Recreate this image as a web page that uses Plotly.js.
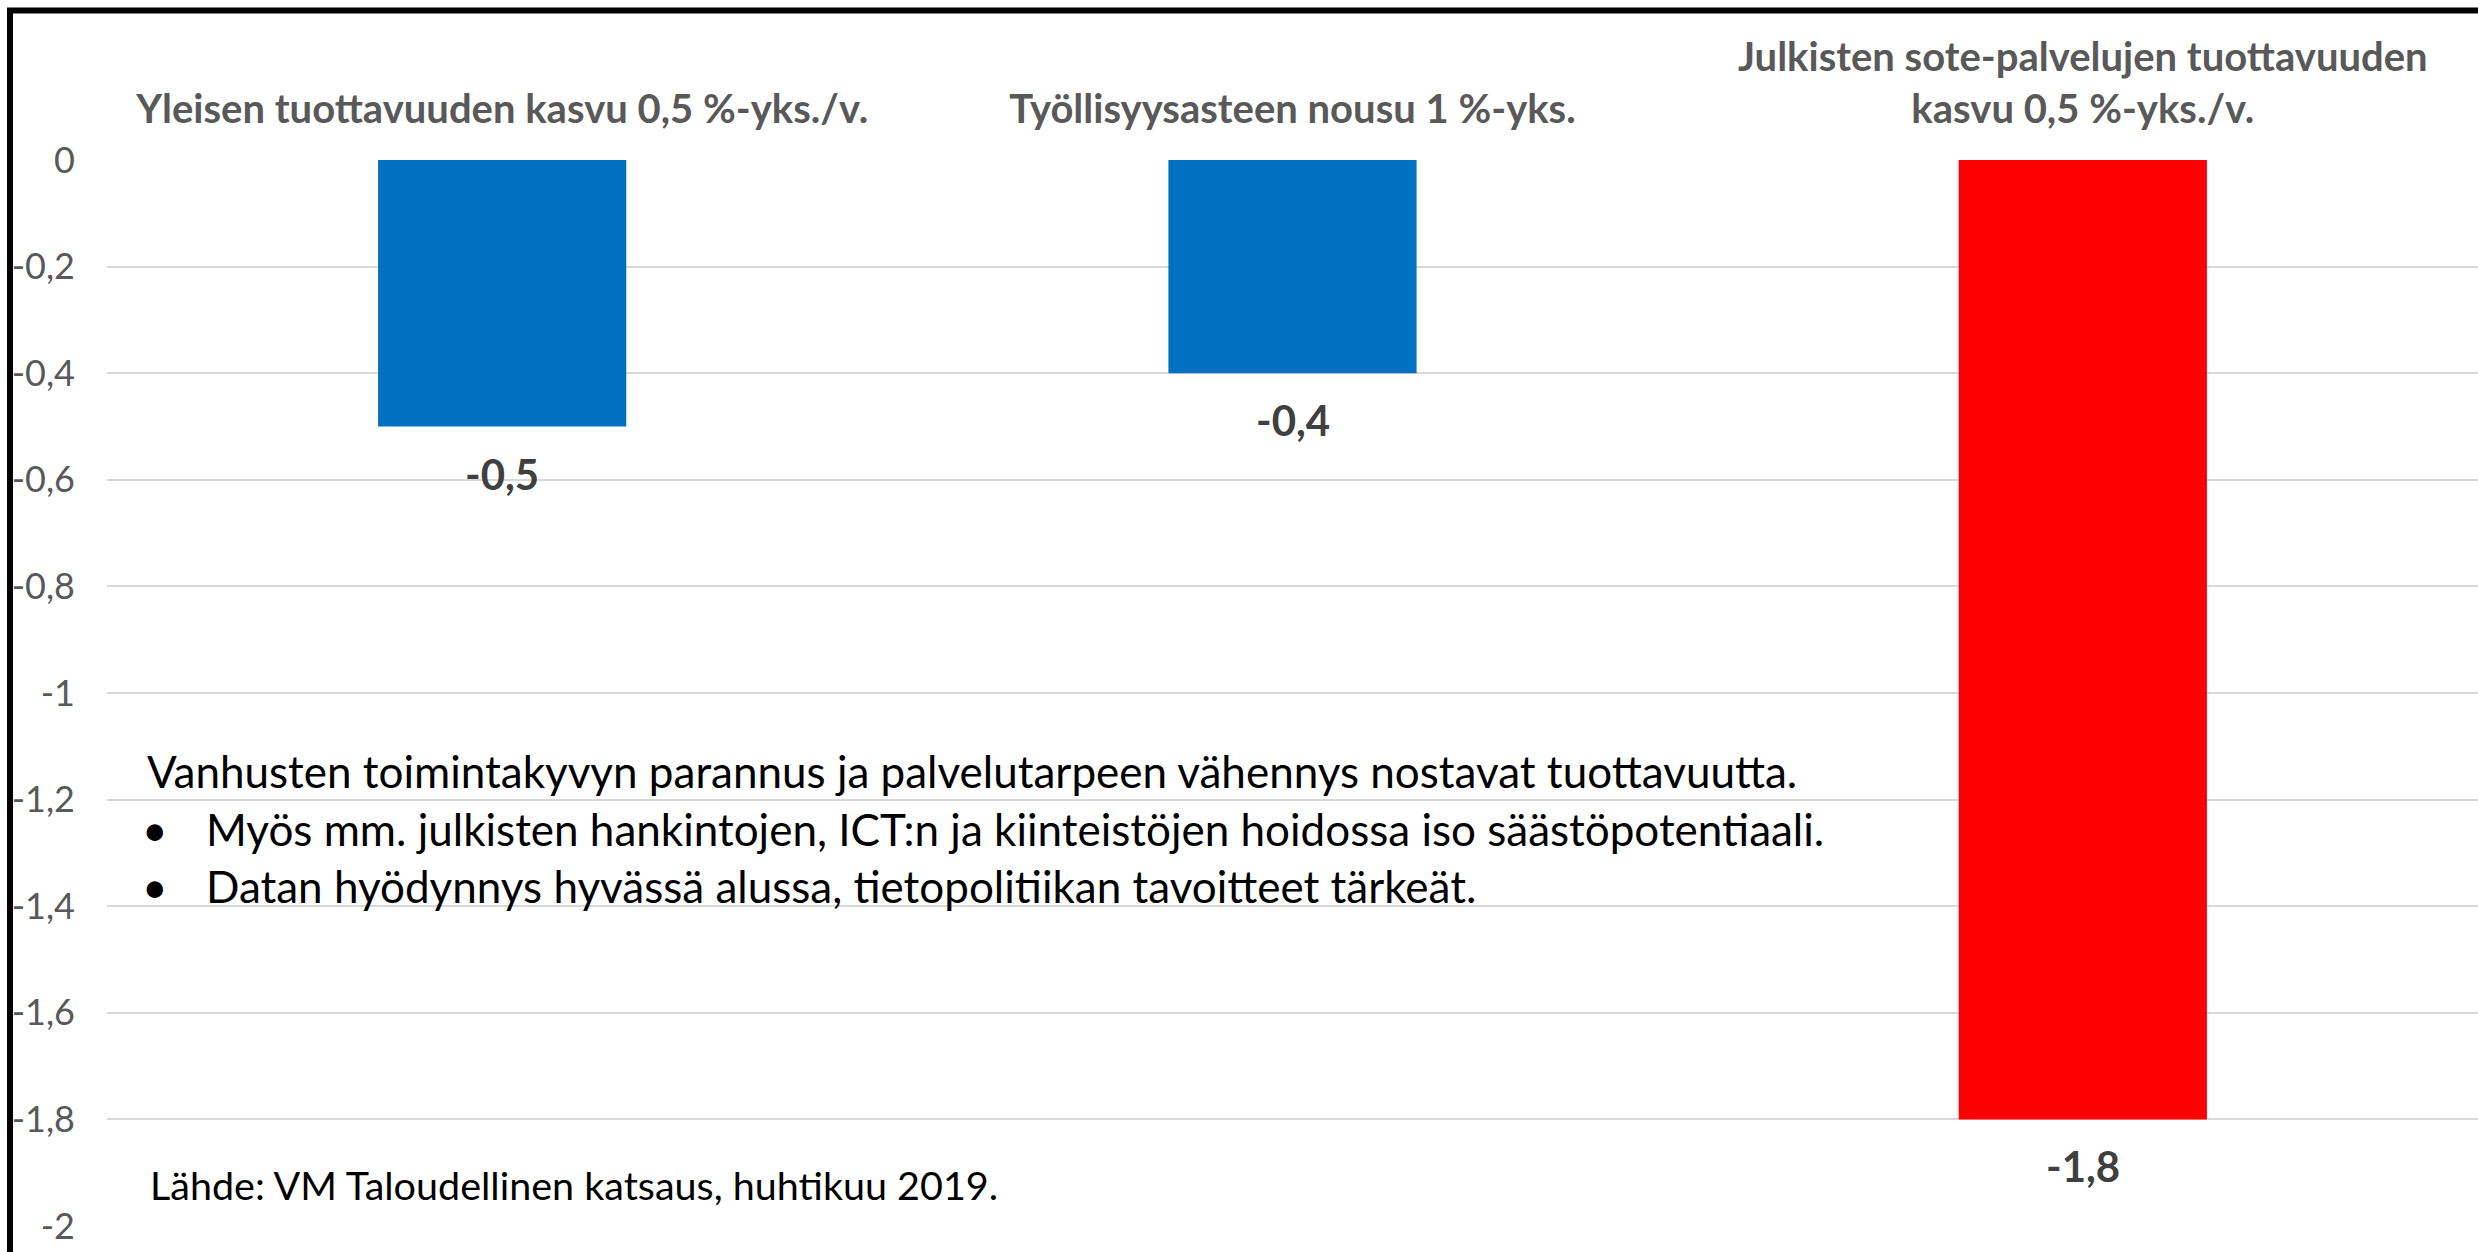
<!DOCTYPE html>
<html>
<head>
<meta charset="utf-8">
<script src="https://cdn.plot.ly/plotly-3.0.1.min.js"></script>
<style>
  html, body { margin: 0; padding: 0; background: #ffffff; }
  #chart { width: 2478px; height: 1252px; }
</style>
</head>
<body>
<div id="chart"></div>
<script>
// ---- data ----
const categories = [
  "Yleisen tuottavuuden kasvu 0,5 %-yks./v.",
  "Työllisyysasteen nousu 1 %-yks.",
  "Julkisten sote-palvelujen tuottavuuden<br>kasvu 0,5 %-yks./v."
];
const values = [-0.5, -0.4, -1.8];
const valueLabels = ["-0,5", "-0,4", "-1,8"];
const barColors = ["#0070C0", "#0070C0", "#FF0000"];
const yTickVals = [0, -0.2, -0.4, -0.6, -0.8, -1, -1.2, -1.4, -1.6, -1.8, -2];
const yTickText = ["0", "-0,2", "-0,4", "-0,6", "-0,8", "-1", "-1,2", "-1,4", "-1,6", "-1,8", "-2"];
const noteLines = [
  "Vanhusten toimintakyvyn parannus ja palvelutarpeen vähennys nostavat tuottavuutta.",
  "Myös mm. julkisten hankintojen, ICT:n ja kiinteistöjen hoidossa iso säästöpotentiaali.",
  "Datan hyödynnys hyvässä alussa, tietopolitiikan tavoitteet tärkeät."
];
const sourceText = "Lähde: VM Taloudellinen katsaus, huhtikuu 2019.";

// ---- layout helpers ----
const W = 2478, H = 1252;
const ML = 107, MR = 0, MT = 160, MB = 26;
const PW = W - ML - MR, PH = H - MT - MB;
const px2x = px => (px - ML) / PW;
const py2y = py => (H - MB - py) / PH;

const FONT = "Lato, 'Open Sans', 'DejaVu Sans', sans-serif";

const trace = {
  type: "bar",
  x: categories,
  y: values,
  marker: { color: barColors, line: { width: 0 } },
  hoverinfo: "skip",
  showlegend: false
};

const annotations = [];
// data labels below bars
categories.forEach((c, i) => {
  annotations.push({
    x: c, y: values[i], xref: "x", yref: "y",
    text: valueLabels[i], showarrow: false,
    xanchor: "center", yanchor: "middle", yshift: -47,
    font: { family: FONT, size: 42, color: "#404040", weight: 700 }
  });
});
// note text
const noteY = [771, 829, 886];
const NOTE_SIZE = 44;
annotations.push({
  x: px2x(145), y: py2y(noteY[0]), xref: "paper", yref: "paper",
  text: noteLines[0], showarrow: false, xanchor: "left", yanchor: "middle",
  font: { family: FONT, size: NOTE_SIZE, color: "#000000" }
});
for (let i = 1; i < 3; i++) {
  annotations.push({
    x: px2x(140), y: py2y(noteY[i]), xref: "paper", yref: "paper",
    text: "•", showarrow: false, xanchor: "left", yanchor: "middle",
    font: { family: FONT, size: NOTE_SIZE, color: "#000000" }
  });
  annotations.push({
    x: px2x(204), y: py2y(noteY[i]), xref: "paper", yref: "paper",
    text: noteLines[i], showarrow: false, xanchor: "left", yanchor: "middle",
    font: { family: FONT, size: NOTE_SIZE, color: "#000000" }
  });
}
annotations.push({
  x: px2x(148), y: py2y(1184), xref: "paper", yref: "paper",
  text: sourceText, showarrow: false, xanchor: "left", yanchor: "middle",
  font: { family: FONT, size: 39.5, color: "#000000" }
});

const layout = {
  width: W, height: H,
  margin: { l: ML, r: MR, t: MT, b: MB, pad: 0 },
  paper_bgcolor: "#ffffff",
  plot_bgcolor: "#ffffff",
  bargap: 0.686,
  xaxis: {
    side: "top",
    showgrid: false, zeroline: false, showline: false,
    ticks: "",
    ticklabelstandoff: 28,
    tickfont: { family: FONT, size: 40, color: "#595959", weight: 700 },
    fixedrange: true
  },
  yaxis: {
    range: [-2, 0],
    tickvals: yTickVals,
    ticktext: yTickText,
    showgrid: true, gridcolor: "#D9D9D9", gridwidth: 2,
    zeroline: false, showline: false, ticks: "",
    ticklabelstandoff: 31,
    tickfont: { family: FONT, size: 36, color: "#595959" },
    fixedrange: true
  },
  annotations: annotations,
  shapes: [
    {
      type: "rect", xref: "paper", yref: "paper",
      x0: px2x(10), x1: px2x(2600), y0: py2y(1400), y1: py2y(10.5),
      line: { color: "#000000", width: 6 }, fillcolor: "rgba(0,0,0,0)",
      layer: "above"
    }
  ]
};

Plotly.newPlot("chart", [trace], layout, { staticPlot: true, displayModeBar: false });
</script>
</body>
</html>
